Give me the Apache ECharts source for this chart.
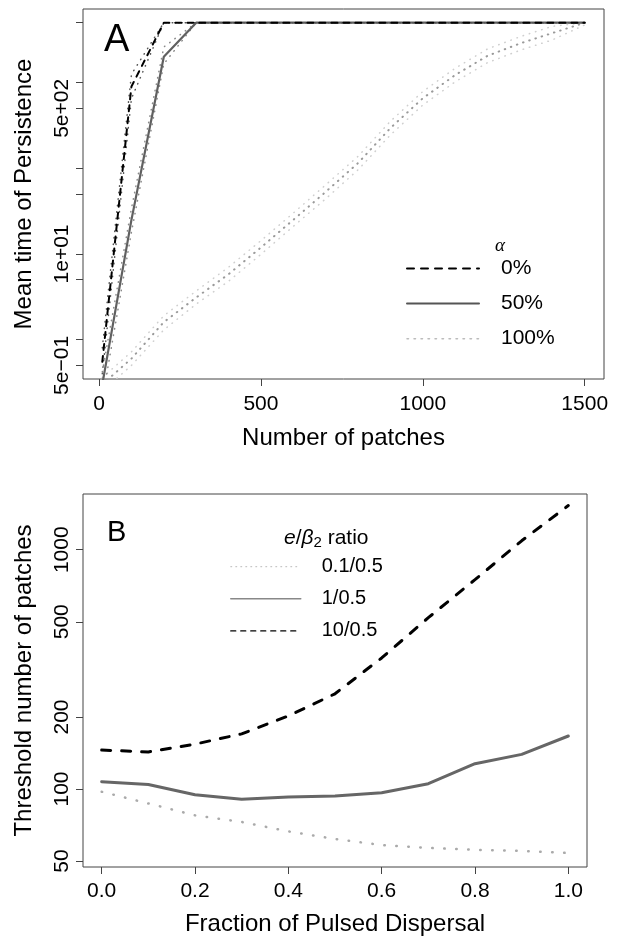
<!DOCTYPE html>
<html>
<head>
<meta charset="utf-8">
<script src="https://cdn.jsdelivr.net/npm/echarts@6/dist/echarts.min.js"></script>
<style>
  html, body { margin: 0; padding: 0; background: #fff; }
  #chart { width: 620px; height: 947px; }
</style>
</head>
<body>
<div id="chart"></div>
<script>
  // panel A: mean persistence time vs number of patches
  var patches = [10, 100, 200, 300, 400, 500, 600, 700, 800, 900, 1000, 1100, 1200, 1300, 1400, 1500];
  var alpha0Mean = [0.55, 900, 5000, 5000, 5000, 5000, 5000, 5000, 5000, 5000, 5000, 5000, 5000, 5000, 5000, 5000];
  var alpha0Low = [0.4, 650, 5000, 5000, 5000, 5000, 5000, 5000, 5000, 5000, 5000, 5000, 5000, 5000, 5000, 5000];
  var alpha0High = [0.8, 1250, 5000, 5000, 5000, 5000, 5000, 5000, 5000, 5000, 5000, 5000, 5000, 5000, 5000, 5000];
  var alpha50Mean = [0.3, 25, 2000, 5000, 5000, 5000, 5000, 5000, 5000, 5000, 5000, 5000, 5000, 5000, 5000, 5000];
  var alpha50Low = [0.2, 18, 1650, 5000, 5000, 5000, 5000, 5000, 5000, 5000, 5000, 5000, 5000, 5000, 5000, 5000];
  var alpha50High = [0.42, 34, 2600, 5000, 5000, 5000, 5000, 5000, 5000, 5000, 5000, 5000, 5000, 5000, 5000, 5000];
  var alpha100Mean = [0.3, 0.6, 1.6, 3.1, 5.8, 11.9, 25, 53, 115, 295, 656, 1225, 2055, 2860, 3780, 5000];
  var alpha100Low = [0.25, 0.5, 1.3, 2.6, 4.8, 9.9, 21, 44, 96, 245, 547, 1020, 1710, 2380, 3150, 4700];
  var alpha100High = [0.36, 0.72, 1.9, 3.7, 7, 14.3, 30, 64, 138, 354, 787, 1470, 2470, 3430, 4536, 5000];
  var xTicksA = [0, 500, 1000, 1500];
  var yTicksA = [0.5, 1, 5, 10, 50, 100, 500, 1000, 5000];
  var yLabelValsA = [0.5, 10, 500];
  var yLabelsA = ['5e\u221201', '1e+01', '5e+02'];

  // panel B: threshold number of patches vs pulsed fraction
  var fraction = [0, 0.1, 0.2, 0.3, 0.4, 0.5, 0.6, 0.7, 0.8, 0.9, 1.0];
  var ratio01 = [97.4, 87, 77.6, 72.8, 66.5, 61.8, 58.3, 56.7, 55.7, 55.1, 54.0];
  var ratio1 = [107.3, 104.5, 94.6, 90.5, 92.6, 93.5, 96.5, 105.2, 127.6, 139.5, 166.5];
  var ratio10 = [145.5, 142.8, 154, 170, 202, 250, 353, 520, 750, 1090, 1530];
  var xTicksB = [0, 0.2, 0.4, 0.6, 0.8, 1.0];
  var yTicksB = [50, 100, 200, 500, 1000];

  var font = '"Liberation Sans", Arial, sans-serif';

  function pairs(xs, ys) {
    return xs.map(function (x, i) { return [x, ys[i]]; });
  }

  function lineSeries(name, idx, xs, ys, color, width, type) {
    return {
      name: name,
      type: 'line',
      xAxisIndex: idx,
      yAxisIndex: idx,
      data: pairs(xs, ys),
      symbol: 'none',
      silent: true,
      lineStyle: { color: color, width: width, type: type, cap: 'round' }
    };
  }

  var dot = [0.5, 6];
  var myChart = echarts.init(document.getElementById('chart'));
  var option = {
    animation: false,
    backgroundColor: '#fff',
    textStyle: { fontFamily: font },
    title: [
      { text: 'A', left: 99, top: 17, textStyle: { fontSize: 38, fontWeight: 'normal', color: '#000', fontFamily: font } },
      { text: 'B', left: 102, top: 513, textStyle: { fontSize: 29, fontWeight: 'normal', color: '#000', fontFamily: font } },
      { text: '\u03b1', left: 490, top: 231, textStyle: { fontSize: 19, fontStyle: 'italic', fontWeight: 'normal', color: '#000', fontFamily: '"Liberation Serif", serif' } },
      {
        text: '{i|e}{n|/}{i|\u03b2}{s|2}{n| ratio}', left: 279, top: 522,
        textStyle: {
          fontWeight: 'normal',
          rich: {
            i: { fontSize: 21, fontStyle: 'italic', fontWeight: 'normal', fontFamily: font, color: '#000' },
            n: { fontSize: 21, fontWeight: 'normal', fontFamily: font, color: '#000' },
            s: { fontSize: 15, fontWeight: 'normal', fontFamily: font, color: '#000', verticalAlign: 'bottom', padding: [8, 0, 0, 0] }
          }
        }
      }
    ],
    legend: [
      {
        orient: 'vertical', left: 406, top: 258, padding: 0,
        itemWidth: 72, itemHeight: 14, itemGap: 14.1, selectedMode: false,
        textStyle: { fontSize: 21, color: '#000', fontFamily: font, padding: [0, 0, 0, 17] },
        data: [
          { name: '0%', itemStyle: { opacity: 0 }, lineStyle: { color: '#000', width: 2, type: [7, 7] } },
          { name: '50%', itemStyle: { opacity: 0 }, lineStyle: { color: '#555', width: 2, type: 'solid' } },
          { name: '100%', itemStyle: { opacity: 0 }, lineStyle: { color: '#bbb', width: 1.5, type: [1.5, 5.5] } }
        ]
      },
      {
        orient: 'vertical', left: 230, top: 556.7, padding: 0,
        itemWidth: 70, itemHeight: 14, itemGap: 12.1, selectedMode: false,
        textStyle: { fontSize: 20, color: '#000', fontFamily: font, padding: [0, 0, 0, 16] },
        data: [
          { name: '0.1/0.5', itemStyle: { opacity: 0 }, lineStyle: { color: '#bbb', width: 1, type: [1, 4] } },
          { name: '1/0.5', itemStyle: { opacity: 0 }, lineStyle: { color: '#888', width: 1.5, type: 'solid' } },
          { name: '10/0.5', itemStyle: { opacity: 0 }, lineStyle: { color: '#000', width: 1.3, type: [5, 5] } }
        ]
      }
    ],
    grid: [
      { left: 83, top: 9, width: 521, height: 370, show: true, borderColor: '#444', borderWidth: 1, backgroundColor: 'transparent' },
      { left: 83, top: 494, width: 504, height: 373, show: true, borderColor: '#444', borderWidth: 1, backgroundColor: 'transparent' }
    ],
    xAxis: [
      {
        type: 'value', gridIndex: 0, min: -49.6, max: 1559.6,
        name: 'Number of patches', nameLocation: 'middle', nameGap: 47,
        nameTextStyle: { fontSize: 24, color: '#000', fontFamily: font },
        axisLine: { show: false, onZero: false }, splitLine: { show: false },
        axisTick: { show: true, inside: false, length: 7, lineStyle: { color: '#444' }, customValues: xTicksA },
        axisLabel: { fontSize: 21, color: '#000', margin: 15, customValues: xTicksA,
          formatter: function (v) { return String(v); } }
      },
      {
        type: 'value', gridIndex: 1, min: -0.04, max: 1.04,
        name: 'Fraction of Pulsed Dispersal', nameLocation: 'middle', nameGap: 45,
        nameTextStyle: { fontSize: 24, color: '#000', fontFamily: font },
        axisLine: { show: false, onZero: false }, splitLine: { show: false },
        axisTick: { show: true, inside: false, length: 7, lineStyle: { color: '#444' }, customValues: xTicksB },
        axisLabel: { fontSize: 21, color: '#000', margin: 14, customValues: xTicksB,
          formatter: function (v) { return v.toFixed(1); } }
      }
    ],
    yAxis: [
      {
        type: 'log', logBase: 10, gridIndex: 0, min: 0.347, max: 7225,
        name: 'Mean time of Persistence', nameLocation: 'middle', nameGap: 47,
        nameTextStyle: { fontSize: 24, color: '#000', fontFamily: font },
        axisLine: { show: false, onZero: false }, splitLine: { show: false },
        axisTick: { show: true, inside: false, length: 7, lineStyle: { color: '#444' }, customValues: yTicksA },
        axisLabel: {
          fontSize: 21, color: '#000', rotate: 90, margin: 10, customValues: yLabelValsA,
          formatter: function (v) {
            var best = 0;
            yLabelValsA.forEach(function (t, i) {
              if (Math.abs(Math.log(t) - Math.log(v)) < Math.abs(Math.log(yLabelValsA[best]) - Math.log(v))) best = i;
            });
            return yLabelsA[best];
          }
        }
      },
      {
        type: 'log', logBase: 10, gridIndex: 1, min: 47.2, max: 1710,
        name: 'Threshold number of patches', nameLocation: 'middle', nameGap: 47,
        nameTextStyle: { fontSize: 24, color: '#000', fontFamily: font },
        axisLine: { show: false, onZero: false }, splitLine: { show: false },
        axisTick: { show: true, inside: false, length: 7, lineStyle: { color: '#444' }, customValues: yTicksB },
        axisLabel: { fontSize: 21, color: '#000', rotate: 90, margin: 10, customValues: yTicksB,
          formatter: function (v) { return String(Math.round(v)); } }
      }
    ],
    series: [
      lineSeries('100% lo', 0, patches, alpha100Low, '#cfcfcf', 1.5, dot),
      lineSeries('100% hi', 0, patches, alpha100High, '#cfcfcf', 1.5, dot),
      lineSeries('100%', 0, patches, alpha100Mean, '#9a9a9a', 2, dot),
      lineSeries('50% lo', 0, patches, alpha50Low, '#8a8a8a', 1.5, dot),
      lineSeries('50% hi', 0, patches, alpha50High, '#8a8a8a', 1.5, dot),
      lineSeries('50%', 0, patches, alpha50Mean, '#606060', 2.2, 'solid'),
      lineSeries('0% lo', 0, patches, alpha0Low, '#555', 1.5, dot),
      lineSeries('0% hi', 0, patches, alpha0High, '#555', 1.5, dot),
      lineSeries('0%', 0, patches, alpha0Mean, '#000', 2, [6, 6]),
      lineSeries('0.1/0.5', 1, fraction, ratio01, '#aaa', 2.5, [0.5, 11.5]),
      lineSeries('1/0.5', 1, fraction, ratio1, '#666', 3, 'solid'),
      lineSeries('10/0.5', 1, fraction, ratio10, '#000', 3, [9, 11])
    ]
  };
  myChart.setOption(option);
</script>
</body>
</html>
